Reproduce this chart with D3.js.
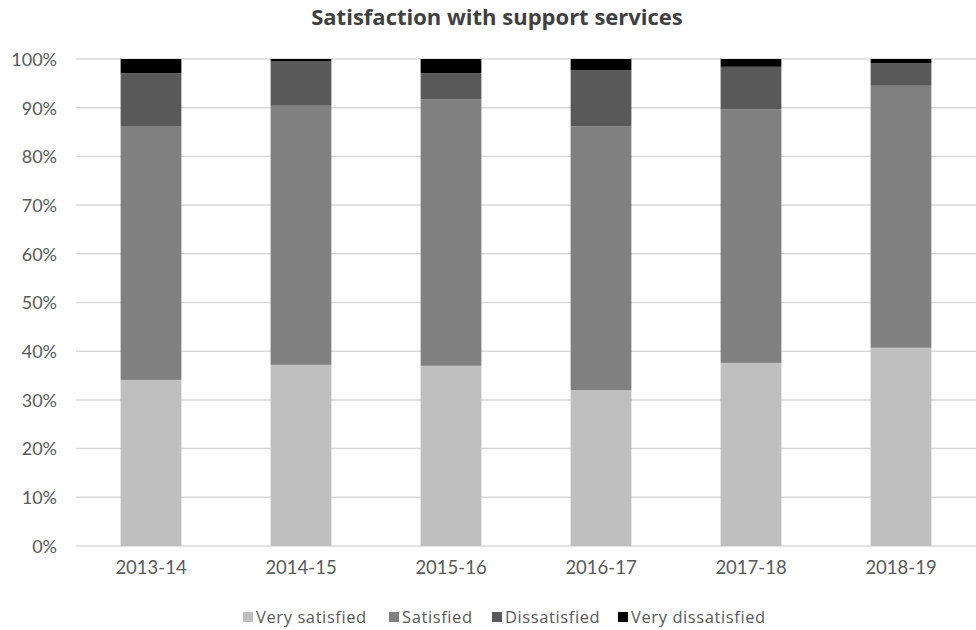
<!DOCTYPE html>
<html><head><meta charset="utf-8">
<script src="https://cdn.jsdelivr.net/npm/d3@7"></script>
<style>body{margin:0;background:#fff}svg{display:block}</style>
</head><body>
<svg id="c" width="976" height="630"></svg>
<script>
const categories = ["2013-14","2014-15","2015-16","2016-17","2017-18","2018-19"];
const seriesNames = ["Very satisfied","Satisfied","Dissatisfied","Very dissatisfied"];
const verySatisfied    = [34.1, 37.2, 37.0, 32.0, 37.6, 40.7];
const satisfied        = [52.0, 53.2, 54.7, 54.2, 52.1, 53.8];
const dissatisfied     = [11.0,  9.1,  5.4, 11.5,  8.7,  4.6];
const veryDissatisfied = [ 2.9,  0.5,  2.9,  2.3,  1.6,  0.9];
const yTicks = [0,10,20,30,40,50,60,70,80,90,100];
const colors = ["#bfbfbf","#808080","#595959","#000000"];

const allSeries = [verySatisfied, satisfied, dissatisfied, veryDissatisfied];
const rows = categories.map((c,i)=>{
  const r = {cat:c};
  seriesNames.forEach((s,k)=> r[s]=allSeries[k][i]);
  return r;
});
const stack = d3.stack().keys(seriesNames).offset(d3.stackOffsetExpand);
const stacked = stack(rows);

const svg = d3.select("#c");
const m = {l:76, r:0};
const W = 976;
const x = d3.scaleBand().domain(categories).range([m.l, W-m.r]).paddingInner(0.595).paddingOuter(0.2975);
const y = d3.scaleLinear().domain([0,1]).range([546, 59]);
const font = "Lato, 'Open Sans', sans-serif";
const font2 = "'Open Sans', Lato, sans-serif";

// gridlines
svg.append("g").selectAll("line").data(yTicks).join("line")
  .attr("x1", m.l).attr("x2", W-m.r)
  .attr("y1", d=>y(d/100)).attr("y2", d=>y(d/100))
  .attr("stroke","#d9d9d9").attr("stroke-width",1.5);

// bars
svg.append("g").selectAll("g").data(stacked).join("g")
  .attr("fill",(d,i)=>colors[i])
  .selectAll("rect").data(d=>d).join("rect")
  .attr("x", d=>x(d.data.cat))
  .attr("width", x.bandwidth())
  .attr("y", d=>y(d[1]))
  .attr("height", d=>y(d[0])-y(d[1]));

// y axis
const yAxis = d3.axisLeft(y).tickValues(yTicks.map(v=>v/100)).tickFormat(d=>Math.round(d*100)+"%").tickSize(0).tickPadding(0);
const gy = svg.append("g").attr("transform",`translate(57,0)`).call(yAxis);
gy.select(".domain").remove();
gy.selectAll("text").attr("font-family",font).attr("font-size",18).attr("fill","#595959").attr("dy","0.35em");

// x axis
const xAxis = d3.axisBottom(x).tickSize(0).tickPadding(0);
const gx = svg.append("g").attr("transform",`translate(0,568)`).call(xAxis);
gx.select(".domain").remove();
gx.selectAll("text").attr("font-family",font).attr("font-size",18.5).attr("fill","#595959").attr("dy","0.35em");

// title
svg.append("text").attr("x",497).attr("y",25).attr("text-anchor","middle")
  .attr("font-family",font2).attr("font-weight","bold").attr("font-size",22).attr("fill","#404040")
  .text("Satisfaction with support services");

// legend
const legX = [243, 389, 492, 618];
const lg = svg.append("g").selectAll("g").data(seriesNames).join("g")
  .attr("transform",(d,i)=>`translate(${legX[i]},617)`);
lg.append("rect").attr("x",0).attr("y",-5).attr("width",10).attr("height",10).attr("fill",(d,i)=>colors[i]);
lg.append("text").attr("x",13).attr("y",0).attr("dy","0.35em")
  .attr("font-family",font2).attr("font-size",16.5).attr("letter-spacing","0.6px").attr("fill","#595959").text(d=>d);
</script>
</body></html>
